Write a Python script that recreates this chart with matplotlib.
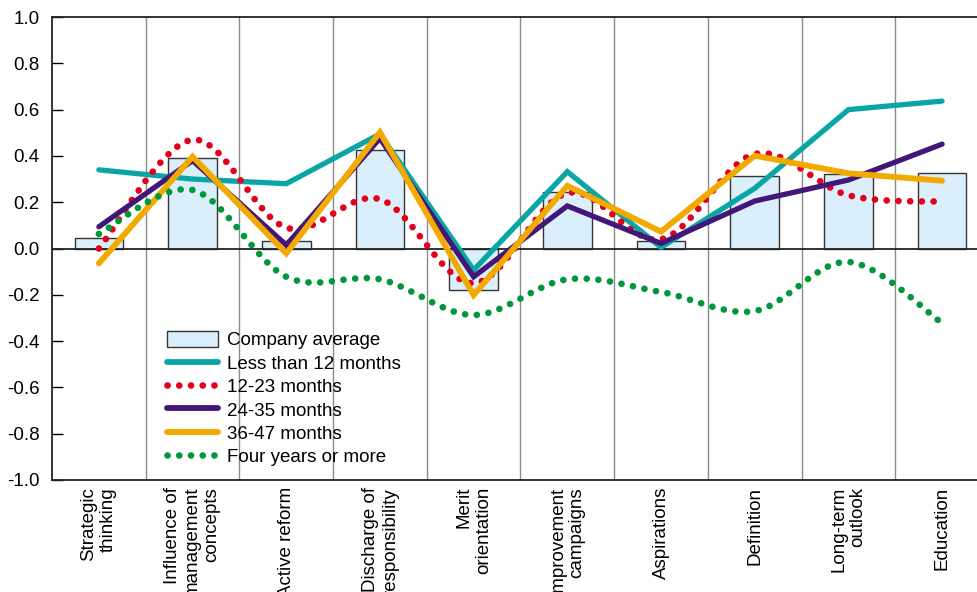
import numpy as np
import matplotlib
matplotlib.use("Agg")
import matplotlib.pyplot as plt
from matplotlib.path import Path
from matplotlib.patches import PathPatch, Patch
from matplotlib.lines import Line2D

plt.rcParams["font.family"] = ["Liberation Sans", "DejaVu Sans"]
plt.rcParams["axes.unicode_minus"] = False

categories = ["Strategic\nthinking", "Influence of\nmanagement\nconcepts", "Active reform",
              "Discharge of\nresponsibility", "Merit\norientation", "Improvement\ncampaigns",
              "Aspirations", "Definition", "Long-term\noutlook", "Education"]
company_avg = [0.044, 0.39, 0.031, 0.424, -0.18, 0.243, 0.031, 0.312, 0.322, 0.325]
less_12 = [0.34, 0.30, 0.28, 0.495, -0.093, 0.332, 0.005, 0.26, 0.60, 0.637]
m12_23 = [0.0, 0.47, 0.09, 0.213, -0.15, 0.24, 0.04, 0.408, 0.23, 0.202]
m24_35 = [0.094, 0.38, 0.015, 0.476, -0.122, 0.184, 0.022, 0.205, 0.296, 0.451]
m36_47 = [-0.064, 0.397, -0.021, 0.502, -0.201, 0.271, 0.073, 0.401, 0.325, 0.293]
four_plus = [0.063, 0.253, -0.122, -0.133, -0.287, -0.133, -0.188, -0.27, -0.058, -0.322]
y_ticks = [-1.0, -0.8, -0.6, -0.4, -0.2, 0.0, 0.2, 0.4, 0.6, 0.8, 1.0]

TEAL = "#0aa5a5"
RED = "#e2001a"
PURPLE = "#421777"
ORANGE = "#f2a900"
GREEN = "#00983a"
DOTS = (0, (0.01, 1.75))


def smooth_path(xs, ys):
    # Catmull-Rom through the points, written as cubic Bezier segments
    pts = np.column_stack([xs, ys]).astype(float)
    verts = [pts[0]]
    codes = [Path.MOVETO]
    n = len(pts)
    for i in range(n - 1):
        p0 = pts[max(i - 1, 0)]
        p1 = pts[i]
        p2 = pts[i + 1]
        p3 = pts[min(i + 2, n - 1)]
        c1 = p1 + (p2 - p0) / 6
        c2 = p2 - (p3 - p1) / 6
        verts += [c1, c2, p2]
        codes += [Path.CURVE4] * 3
    return Path(verts, codes)


fig = plt.figure(figsize=(9.78, 5.92), dpi=100)
ax = fig.add_axes([0.0532, 0.1892, 0.958, 0.782])
x = np.arange(len(categories))

ax.bar(x, company_avg, width=0.52, color="#dbeefb", edgecolor="#333333", linewidth=1.0, zorder=2)
ax.plot(x, less_12, color=TEAL, lw=3.8, zorder=3, solid_capstyle="round", solid_joinstyle="miter")

red_patch = PathPatch(smooth_path(x, m12_23), fill=False, edgecolor=RED, lw=4.8,
                      linestyle=DOTS, zorder=4)
red_patch.set_capstyle("round")
ax.add_patch(red_patch)

ax.plot(x, m24_35, color=PURPLE, lw=3.8, zorder=5, solid_capstyle="round", solid_joinstyle="miter")
ax.plot(x, m36_47, color=ORANGE, lw=4.2, zorder=6, solid_capstyle="round", solid_joinstyle="miter")

green_patch = PathPatch(smooth_path(x, four_plus), fill=False, edgecolor=GREEN, lw=4.8,
                        linestyle=DOTS, zorder=7)
green_patch.set_capstyle("round")
ax.add_patch(green_patch)

ax.axhline(0, color="#222222", lw=1.3, zorder=2.5)

ax.set_xlim(-0.5, 9.5)
ax.set_ylim(-1.0, 1.0)
ax.set_yticks(y_ticks)
ax.set_yticklabels([f"{v:.1f}" for v in y_ticks])
ax.tick_params(axis="y", direction="in", length=8, width=1, labelsize=13.5, pad=9)
ax.set_xticks(x)
ax.set_xticklabels(categories, rotation=90, va="top", ha="center", multialignment="right", fontsize=13.5,
                   linespacing=1.2)
ax.tick_params(axis="x", which="both", length=0, pad=5)
ax.set_xticks(np.arange(0.5, 9.0, 1.0), minor=True)
ax.grid(which="minor", axis="x", color="#8a8a8a", lw=1.0, zorder=0)
ax.set_axisbelow(True)
for s in ax.spines.values():
    s.set_color("#222222")
    s.set_linewidth(1.3)

handles = [
    Patch(facecolor="#dbeefb", edgecolor="#333333", linewidth=1.0),
    Line2D([], [], color=TEAL, lw=4.2, solid_capstyle="round"),
    Line2D([], [], color=RED, lw=4.8, linestyle=DOTS, dash_capstyle="round"),
    Line2D([], [], color=PURPLE, lw=4.2, solid_capstyle="round"),
    Line2D([], [], color=ORANGE, lw=4.2, solid_capstyle="round"),
    Line2D([], [], color=GREEN, lw=4.8, linestyle=DOTS, dash_capstyle="round"),
]
labels = ["Company average", "Less than 12 months", "12-23 months", "24-35 months",
          "36-47 months", "Four years or more"]
ax.legend(handles, labels, loc="upper left", bbox_to_anchor=(0.123, 0.322), frameon=False,
          fontsize=13.5, handlelength=2.7, handleheight=0.95, handletextpad=0.5,
          labelspacing=0.26, borderpad=0, borderaxespad=0)

fig.savefig("out.png", dpi=100)
